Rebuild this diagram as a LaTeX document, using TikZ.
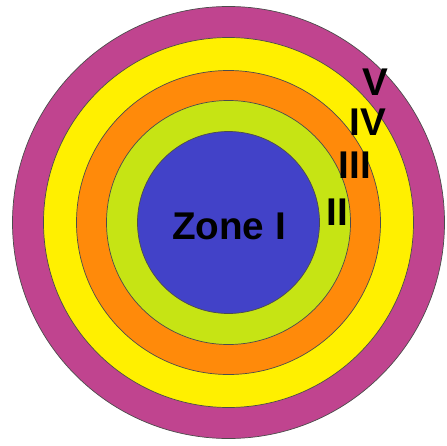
\documentclass[tikz,border=0pt]{standalone}
\usepackage{fontspec}
\setmainfont{Liberation Sans}
\usepackage{xcolor}

\definecolor{ringV}{HTML}{C0448F}
\definecolor{ringIV}{HTML}{FFF000}
\definecolor{ringIII}{HTML}{FF8A0A}
\definecolor{ringII}{HTML}{C6E414}
\definecolor{ringI}{HTML}{4242C8}

\begin{document}
\begin{tikzpicture}[
			x=0.03cm, y=-0.03cm,
			ring/.style={
				circle, draw=black!70, line width=0.6pt, inner sep=0pt
			},
			lbl/.style={font=\fontsize{33}{33}\selectfont\bfseries, text=black, inner sep=0pt},
			]
			
			% ── frame ────────────────────────────────────────────────────────
			\fill[white] (0,0) rectangle (447,445);
			\useasboundingbox (0,0) rectangle (447,445);
			
			% ── rings, outside in ────────────────────────────────────────────
			\node[ring, fill=ringV,   minimum size=12.96cm] (zoneV)   at (228.5,222.5) {};
			\node[ring, fill=ringIV,  minimum size=11.1cm]  (zoneIV)  at (228.5,222.5) {};
			\node[ring, fill=ringIII, minimum size=9.12cm]  (zoneIII) at (228.5,222.5) {};
			\node[ring, fill=ringII,  minimum size=7.32cm]  (zoneII)  at (228.5,222.5) {};
			\node[ring, fill=ringI,   minimum size=5.46cm]  (zoneI)   at (228.5,222.5) {};
			
			% ── labels ───────────────────────────────────────────────────────
			\node[lbl] (labI)   at (229,226) {Zone I};
			\node[lbl] (labII)  at (337,212) {II};
			\node[lbl] (labIII) at (355,165) {III};
			\node[lbl] (labIV)  at (368,122) {IV};
			\node[lbl] (labV)   at (375,82)  {V};
			
		\end{tikzpicture}
\end{document}
